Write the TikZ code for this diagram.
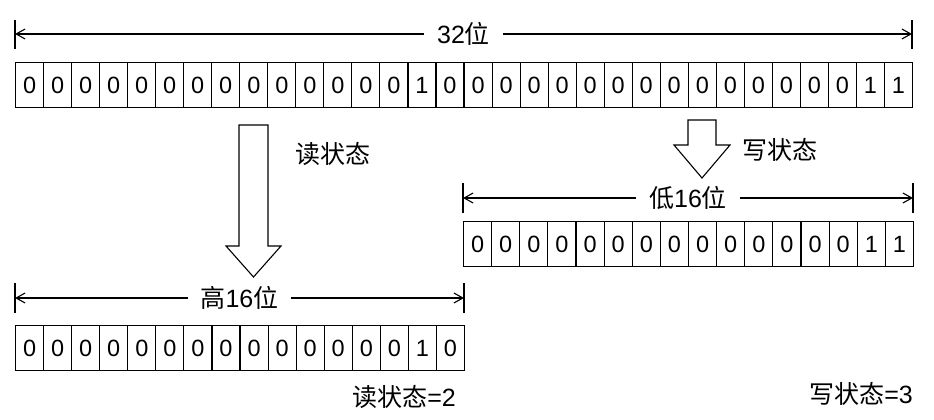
\documentclass[tikz,border=0pt]{standalone}
\usepackage{fontspec}
\setmainfont{Liberation Sans}
\newfontfamily\cjk{Noto Sans CJK SC}
\usetikzlibrary{arrows.meta}
\tikzset{
  cell/.style={draw, line width=1.1pt, minimum height=45pt, inner sep=0pt, anchor=north west, font=\fontsize{23.5}{23.5}\selectfont},
  dimline/.style={line width=1.1pt, {Straight Barb[length=9pt,width=10pt,line width=1.1pt]}-{Straight Barb[length=9pt,width=10pt,line width=1.1pt]}},
  tick/.style={line width=1.3pt},
  dimlabel/.style={fill=white, inner xsep=13pt, inner ysep=2pt, font=\fontsize{25}{25}\selectfont},
  txt/.style={font=\fontsize{25}{25}\selectfont, inner sep=0pt},
  bigarrow/.style={draw, line width=1.1pt, fill=white, line join=miter}
}
\begin{document}
\begin{tikzpicture}[x=1pt, y=-1pt]
\useasboundingbox (0,0) rectangle (934,420);
% top row 32 bits
\foreach \b [count=\i from 0] in {0,0,0,0,0,0,0,0,0,0,0,0,0,0,1,0,0,0,0,0,0,0,0,0,0,0,0,0,0,0,1,1}
  \node[cell, minimum width=28.03pt] (t\i) at (15+\i*28.03, 62) {\b};
% low 16 (write)
\foreach \b [count=\i from 0] in {0,0,0,0,0,0,0,0,0,0,0,0,0,0,1,1}
  \node[cell, minimum width=28.12pt] (w\i) at (463+\i*28.12, 221) {\b};
% high 16 (read)
\foreach \b [count=\i from 0] in {0,0,0,0,0,0,0,0,0,0,0,0,0,0,1,0}
  \node[cell, minimum width=28.06pt] (r\i) at (15+\i*28.06, 325) {\b};

% dimension lines
\coordinate (tL) at (15,34);  \coordinate (tR) at (912,34);
\coordinate (wL) at (463,198); \coordinate (wR) at (913,198);
\coordinate (rL) at (15,298);  \coordinate (rR) at (464,298);
\draw[tick] (15,20) -- (15,49);  \draw[tick] (912,20) -- (912,49);
\draw[tick] (463,183) -- (463,213); \draw[tick] (913,183) -- (913,213);
\draw[tick] (15,283) -- (15,313); \draw[tick] (464,283) -- (464,313);
\draw[dimline] (tL) -- node[dimlabel] (lab32) {32{\cjk 位}} (tR);
\draw[dimline] (wL) -- node[dimlabel] (labw) {{\cjk 低}16{\cjk 位}} (wR);
\draw[dimline] (rL) -- node[dimlabel] (labr) {{\cjk 高}16{\cjk 位}} (rR);

% big arrows
\draw[bigarrow] (239,125) -- (268,125) -- (268,246) -- (281,246) -- (253.5,277) -- (226,246) -- (239,246) -- cycle;
\draw[bigarrow] (688,120) -- (716,120) -- (716,145) -- (730,145) -- (702,178) -- (674,145) -- (688,145) -- cycle;

% labels
\node[txt] (readlab) at (333,154) {\cjk 读状态};
\node[txt] (writelab) at (780,150) {\cjk 写状态};
\node[txt] (readval) at (404,397) {{\cjk 读状态}=2};
\node[txt] (writeval) at (861,394) {{\cjk 写状态}=3};
\end{tikzpicture}
\end{document}
